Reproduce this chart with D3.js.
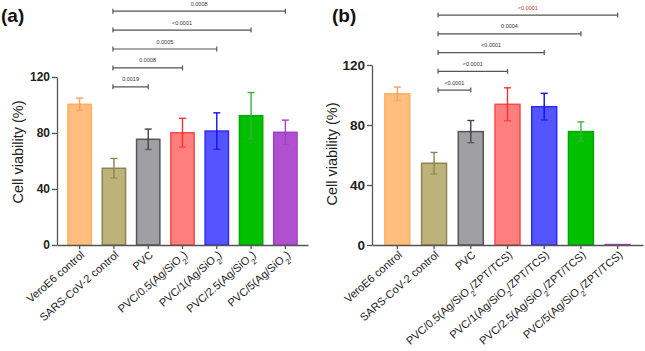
<!DOCTYPE html>
<html>
<head>
<meta charset="utf-8">
<script src="https://cdn.jsdelivr.net/npm/d3@7"></script>
<style>
  body { margin: 0; background: #fff; }
  svg { display: block; font-family: "Liberation Sans", Arial, sans-serif; }
</style>
</head>
<body>
<svg id="chart" width="645" height="351"></svg>
<script>
// data ("_" marks a subscript character)
const categoriesA = ["VeroE6 control", "SARS-CoV-2 control", "PVC", "PVC/0.5(Ag/SiO_2)",
  "PVC/1(Ag/SiO_2)", "PVC/2.5(Ag/SiO_2)", "PVC/5(Ag/SiO_2)"];
const meansA = [100.5, 54.8, 75.5, 80.2, 81.4, 92.4, 80.5];
const errorsA = [4.4, 7, 7.3, 10.3, 13, 16.5, 8.7];
const compareToA = ["PVC", "PVC/0.5(Ag/SiO_2)", "PVC/1(Ag/SiO_2)", "PVC/2.5(Ag/SiO_2)", "PVC/5(Ag/SiO_2)"];
const pValuesA = ["0.0019", "0.0008", "0.0005", "<0.0001", "0.0008"];

const categoriesB = ["VeroE6 control", "SARS-CoV-2 control", "PVC", "PVC/0.5(Ag/SiO_2/ZPT/TCS)",
  "PVC/1(Ag/SiO_2/ZPT/TCS)", "PVC/2.5(Ag/SiO_2/ZPT/TCS)", "PVC/5(Ag/SiO_2/ZPT/TCS)"];
const meansB = [100.8, 54.5, 75.6, 93.8, 92.2, 75.6, 0.3];
const errorsB = [4.5, 7.2, 7.4, 11, 8.9, 6.5, 0];
const compareToB = ["PVC", "PVC/0.5(Ag/SiO_2/ZPT/TCS)", "PVC/1(Ag/SiO_2/ZPT/TCS)",
  "PVC/2.5(Ag/SiO_2/ZPT/TCS)", "PVC/5(Ag/SiO_2/ZPT/TCS)"];
const pValuesB = ["<0.0001", "<0.0001", "<0.0001", "0.0004", "<0.0001"];

const yTicks = [0, 40, 80, 120];

const fills = ["#ffbe7d", "#bdb37a", "#a0a0a4", "#ff7f7f", "#5555ff", "#00c000", "#b050d0"];
const strokes = ["#ffb063", "#8e8450", "#555558", "#ff4848", "#2a2aff", "#00a800", "#a040c8"];
const errColors = ["#f5a060", "#8e8450", "#444", "#ff3030", "#1010f0", "#40b040", "#a040c8"];

const svg = d3.select("#chart");

function drawPanel(p) {
  const g = svg.append("g");
  const x = d3.scaleBand().domain(p.categories).range(p.xRange)
    .paddingInner(0.32).paddingOuter(p.padOuter);
  const y = d3.scaleLinear().domain([0, 120]).range(p.yRange);
  const rows = p.categories.map((c, i) => ({ c, m: p.means[i], e: p.errors[i], i }));

  // y axis
  const ya = g.append("g").attr("transform", `translate(${p.xRange[0]},0)`)
    .call(d3.axisLeft(y).tickValues(yTicks).tickSize(5).tickSizeOuter(0));
  ya.select(".domain").attr("stroke", "#555").attr("stroke-width", 1.3);
  ya.selectAll(".tick line").attr("stroke", "#555").attr("stroke-width", 1.3);
  ya.selectAll(".tick text").attr("font-size", p.tickFont).attr("font-weight", "bold")
    .attr("fill", "#222").attr("font-family", "Liberation Sans, Arial").attr("x", -7);

  // bars
  g.selectAll(".bar").data(rows).join("rect")
    .attr("x", d => x(d.c)).attr("width", x.bandwidth())
    .attr("y", d => y(d.m)).attr("height", d => y(0) - y(d.m))
    .attr("fill", d => fills[d.i]).attr("stroke", d => strokes[d.i]).attr("stroke-width", 1.5);

  // error bars
  const eb = g.selectAll(".err").data(rows.filter(d => d.e > 0)).join("g")
    .attr("stroke", d => errColors[d.i]).attr("stroke-width", 1.4);
  eb.append("line").attr("x1", d => x(d.c) + x.bandwidth() / 2).attr("x2", d => x(d.c) + x.bandwidth() / 2)
    .attr("y1", d => y(d.m - d.e)).attr("y2", d => y(d.m + d.e));
  eb.append("line").attr("x1", d => x(d.c) + x.bandwidth() / 2 - 3.5).attr("x2", d => x(d.c) + x.bandwidth() / 2 + 3.5)
    .attr("y1", d => y(d.m + d.e)).attr("y2", d => y(d.m + d.e));
  eb.append("line").attr("x1", d => x(d.c) + x.bandwidth() / 2 - 3.5).attr("x2", d => x(d.c) + x.bandwidth() / 2 + 3.5)
    .attr("y1", d => y(d.m - d.e)).attr("y2", d => y(d.m - d.e)).attr("stroke-opacity", 0.7);

  // x axis
  const xa = g.append("g").attr("transform", `translate(0,${y(0)})`)
    .call(d3.axisBottom(x).tickSize(4).tickSizeOuter(0).tickFormat(""));
  xa.select(".domain").attr("stroke", "#555").attr("stroke-width", 1.3);
  xa.selectAll(".tick line").attr("stroke", "#555").attr("stroke-width", 1.3);

  // rotated category labels
  g.selectAll(".xl").data(rows).join("text")
    .attr("transform", d => `translate(${x(d.c) + x.bandwidth() / 2 + 3},${y(0) + 8}) rotate(-41)`)
    .attr("text-anchor", "end").attr("dy", "0.35em")
    .attr("font-size", p.labelFont).attr("fill", "#222")
    .each(function (d) {
      const t = d3.select(this);
      d.c.split(/(_.)/).forEach(part => {
        if (part.startsWith("_")) {
          t.append("tspan").text(part.slice(1)).attr("font-size", p.labelFont * 0.7)
            .attr("baseline-shift", "sub");
        } else if (part) {
          t.append("tspan").text(part);
        }
      });
    });

  // y title
  g.append("text").attr("transform", `translate(${p.titleX},${p.titleY}) rotate(-90)`)
    .attr("text-anchor", "middle").attr("font-size", 14.5).attr("fill", "#222")
    .text("Cell viability (%)");

  // significance brackets from the SARS-CoV-2 control
  const from = p.categories[1];
  const x0 = x(from) + x.bandwidth() / 2 + p.bracketShift;
  p.compareTo.forEach((c, i) => {
    const x1 = x(c) + x.bandwidth() / 2;
    const yy = y(p.bracketBase + i * p.bracketStep);
    const b = g.append("g").attr("stroke", "#555").attr("stroke-width", 1.2);
    b.append("line").attr("x1", x0).attr("x2", x1).attr("y1", yy).attr("y2", yy);
    b.append("line").attr("x1", x0).attr("x2", x0).attr("y1", yy - 2.5).attr("y2", yy + 2.5);
    b.append("line").attr("x1", x1).attr("x2", x1).attr("y1", yy - 2.5).attr("y2", yy + 2.5);
    g.append("text").attr("x", (x0 + x1) / 2).attr("y", yy - 5.5)
      .attr("text-anchor", "middle").attr("font-size", 5.5)
      .attr("fill", p.pColors[i]).text(p.pValues[i]);
  });

  // panel tag
  g.append("text").attr("x", p.tagX).attr("y", 22).attr("font-size", 19).attr("font-weight", "bold")
    .attr("fill", "#111").text(p.tag);
}

drawPanel({
  tag: "(a)", tagX: 1,
  categories: categoriesA, means: meansA, errors: errorsA,
  compareTo: compareToA, pValues: pValuesA, pColors: pValuesA.map(() => "#333"),
  xRange: [57, 308], padOuter: 0.32, yRange: [245, 77],
  tickFont: 12, labelFont: 11, titleX: 23, titleY: 152,
  bracketBase: 113, bracketStep: 13.5, bracketShift: -1
});

drawPanel({
  tag: "(b)", tagX: 332,
  categories: categoriesB, means: meansB, errors: errorsB,
  compareTo: compareToB, pValues: pValuesB, pColors: ["#333", "#333", "#333", "#333", "#d03030"],
  xRange: [372, 643], padOuter: 0.35, yRange: [245, 65],
  tickFont: 13.5, labelFont: 11, titleX: 337, titleY: 154,
  bracketBase: 103.3, bracketStep: 12.5, bracketShift: 4
});
</script>
</body>
</html>
